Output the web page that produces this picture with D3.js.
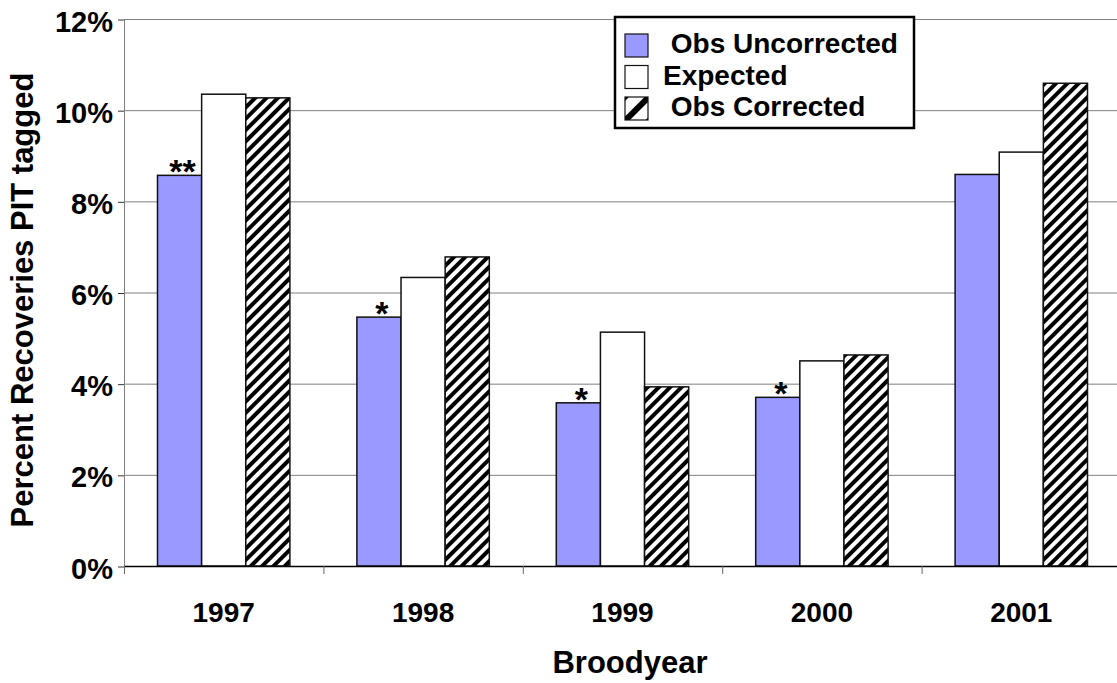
<!DOCTYPE html>
<html>
<head>
<meta charset="utf-8">
<script src="https://cdn.jsdelivr.net/npm/d3@7"></script>
<style>
  body { margin: 0; background: #fff; }
  text { font-family: "Liberation Sans", Arial, sans-serif; font-weight: bold; }
</style>
</head>
<body>
<div id="chart"></div>
<script>
// data
var years = ["1997", "1998", "1999", "2000", "2001"];
var seriesNames = [" Obs Uncorrected", "Expected", " Obs Corrected"];
var obsUncorrected = [8.57, 5.46, 3.58, 3.70, 8.59];
var expected = [10.35, 6.33, 5.13, 4.50, 9.08];
var obsCorrected = [10.27, 6.78, 3.93, 4.63, 10.59];
var marks = ["**", "*", "*", "*", ""];
var yTicks = [0, 2, 4, 6, 8, 10, 12];

var tot_width = 1117, tot_height = 683;
var fills = ["#9999ff", "#ffffff", "url(#hatch)"];
var legendFills = ["#9999ff", "#ffffff", "url(#hatchBig)"];

var svg = d3.select("#chart").append("svg")
    .attr("width", tot_width).attr("height", tot_height);

// hatch patterns
var defs = svg.append("defs");
defs.append("pattern")
    .attr("id", "hatch")
    .attr("patternUnits", "userSpaceOnUse")
    .attr("width", 8).attr("height", 8)
    .attr("patternTransform", "rotate(45)")
  .call(function(p) {
    p.append("rect").attr("width", 8).attr("height", 8).attr("fill", "#fff");
    p.append("rect").attr("width", 4).attr("height", 8).attr("fill", "#000");
  });
// legend swatch: one thick stripe through the middle
defs.append("pattern")
    .attr("id", "hatchBig")
    .attr("patternUnits", "userSpaceOnUse")
    .attr("width", 17).attr("height", 17)
    .attr("patternTransform", "translate(636.5,108.5) rotate(45)")
  .call(function(p) {
    p.append("rect").attr("width", 17).attr("height", 17).attr("fill", "#fff");
    p.append("rect").attr("x", -3).attr("width", 6).attr("height", 17).attr("fill", "#000");
    p.append("rect").attr("x", 14).attr("width", 6).attr("height", 17).attr("fill", "#000");
  });

var plotLeft = 124, plotRight = 1121, plotTop = 19, plotBottom = 566;

var y = d3.scaleLinear().domain([0, 12]).range([plotBottom, plotTop]);
var x0 = d3.scaleBand().domain(years).range([plotLeft, plotRight]);
var bw = x0.bandwidth();
var x1 = d3.scaleBand().domain([0, 1, 2]).range([bw * 0.168, bw * 0.832]);

var table = years.map(function(yr, i) {
  return { year: yr, vals: [obsUncorrected[i], expected[i], obsCorrected[i]], mark: marks[i] };
});

// gridlines
svg.append("g")
  .selectAll("line")
  .data(yTicks.filter(function(d) { return d > 0; }))
  .enter().append("line")
    .attr("x1", plotLeft).attr("x2", tot_width)
    .attr("y1", function(d) { return y(d) + 0.5; })
    .attr("y2", function(d) { return y(d) + 0.5; })
    .attr("stroke", "#808080").attr("stroke-width", 1);

// y axis
var yAxis = svg.append("g")
    .attr("transform", "translate(" + plotLeft + ",0.5)")
    .call(d3.axisLeft(y).tickValues(yTicks).tickSize(6).tickPadding(5)
      .tickFormat(function(d) { return d + "%"; }));
yAxis.select(".domain").attr("stroke", "#808080").attr("d", "M0.5," + plotTop + "V" + plotBottom);
yAxis.selectAll(".tick line").attr("stroke", "#333");
yAxis.selectAll(".tick text")
    .attr("fill", "#000").attr("font-size", 29)
    .attr("font-family", "Liberation Sans, Arial, sans-serif")
    .attr("dy", "0.4em");

// bars
var groups = svg.append("g")
  .selectAll("g.grp")
  .data(table)
  .enter().append("g")
    .attr("class", "grp")
    .attr("transform", function(d) { return "translate(" + x0(d.year) + ",0)"; });

groups.selectAll("rect")
  .data(function(d) { return d.vals; })
  .enter().append("rect")
    .attr("x", function(d, i) { return x1(i); })
    .attr("width", x1.bandwidth())
    .attr("y", function(d) { return y(d); })
    .attr("height", function(d) { return plotBottom - y(d); })
    .attr("fill", function(d, i) { return fills[i]; })
    .attr("stroke", "#111").attr("stroke-width", 1.5);

// significance marks above the uncorrected bar
groups.append("text")
    .attr("x", function(d) { return x1(0) + x1.bandwidth() / 2 + 3; })
    .attr("y", function(d) { return y(d.vals[0]) + 8; })
    .attr("text-anchor", "middle")
    .attr("font-size", 34)
    .text(function(d) { return d.mark; });

// x axis
var xAxis = svg.append("g")
    .attr("transform", "translate(0," + plotBottom + ")");
xAxis.append("line")
    .attr("x1", plotLeft).attr("x2", tot_width)
    .attr("y1", 0.5).attr("y2", 0.5)
    .attr("stroke", "#000").attr("stroke-width", 1.5);
xAxis.selectAll("line.tk")
  .data(years)
  .enter().append("line")
    .attr("class", "tk")
    .attr("x1", function(d) { return x0(d) + 0.5; })
    .attr("x2", function(d) { return x0(d) + 0.5; })
    .attr("y1", 0).attr("y2", 8)
    .attr("stroke", "#666");
xAxis.selectAll("text")
  .data(years)
  .enter().append("text")
    .attr("x", function(d) { return x0(d) + bw / 2; })
    .attr("y", 56)
    .attr("text-anchor", "middle")
    .attr("font-size", 28)
    .text(function(d) { return d; });

// axis titles
svg.append("text")
    .attr("x", 630).attr("y", 673)
    .attr("text-anchor", "middle")
    .attr("font-size", 31)
    .text("Broodyear");

svg.append("text")
    .attr("transform", "translate(33,300) rotate(-90)")
    .attr("text-anchor", "middle")
    .attr("font-size", 31)
    .text("Percent Recoveries PIT tagged");

// legend
var legend = svg.append("g");
legend.append("rect")
    .attr("x", 615).attr("y", 17)
    .attr("width", 299).attr("height", 111)
    .attr("fill", "#fff").attr("stroke", "#000").attr("stroke-width", 2.5);
var rows = legend.selectAll("g.row")
  .data(seriesNames)
  .enter().append("g")
    .attr("class", "row")
    .attr("transform", function(d, i) { return "translate(625," + (34 + i * 31.5) + ")"; });
rows.append("rect")
    .attr("width", 23).attr("height", 23)
    .attr("fill", function(d, i) { return legendFills[i]; })
    .attr("stroke", "#111").attr("stroke-width", 1.2);
rows.append("text")
    .attr("x", 38).attr("y", 19)
    .attr("font-size", 28)
    .style("white-space", "pre")
    .text(function(d) { return d; });
</script>
</body>
</html>
